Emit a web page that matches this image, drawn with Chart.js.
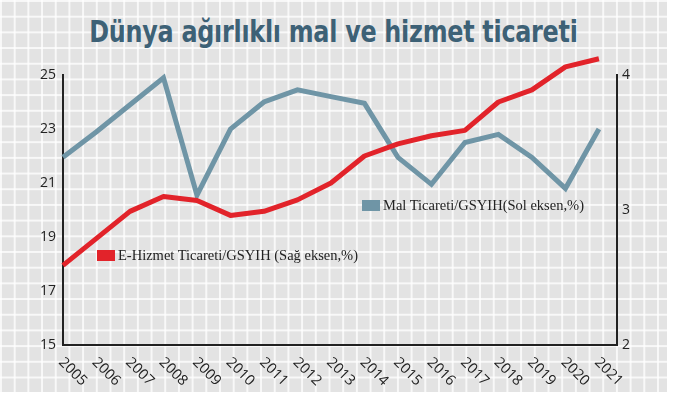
<!DOCTYPE html>
<html>
<head>
<meta charset="utf-8">
<script src="https://cdn.jsdelivr.net/npm/chart.js@4/dist/chart.umd.min.js"></script>
<style>
  html, body { margin: 0; padding: 0; background: #ffffff; }
  #wrap {
    position: relative; width: 673px; height: 399px; overflow: hidden;
  }
  #bg {
    position: absolute; left: 0; top: 0; width: 667px; height: 392px;
    background-color: #e3e3e3;
    background-image:
      linear-gradient(to right, rgba(255,255,255,0.75) 1.5px, transparent 1.5px),
      linear-gradient(to bottom, rgba(255,255,255,0.75) 1.5px, transparent 1.5px);
    background-size: 13.7px 15.7px;
  }
  #title {
    position: absolute; left: 0; width: 667px; top: 13px; text-align: center;
    font-family: "Liberation Sans Narrow", "DejaVu Sans Condensed", "Roboto", sans-serif;
    font-weight: bold; font-size: 31px; color: #3d6176; line-height: 36px;
    letter-spacing: -0.3px;
    transform: scaleX(0.855); transform-origin: 333px 0;
  }
  canvas { position: absolute; left: 0; top: 0; }
  .leg {
    position: absolute; display: flex; align-items: center; height: 16px;
    font-family: "Liberation Serif", "DejaVu Serif", serif; font-size: 14.5px; color: #222;
    white-space: nowrap;
  }
  .leg .box { width: 18px; height: 11px; margin-right: 3px; }
</style>
</head>
<body>
<div id="wrap">
  <div id="bg"></div>
  <div id="title">Dünya ağırlıklı mal ve hizmet ticareti</div>
  <canvas id="c" width="673" height="399"></canvas>
  <div class="leg" id="legBlue" style="left:362px; top:197px;"><span class="box"></span><span class="txt"></span></div>
  <div class="leg" id="legRed" style="left:97px; top:247px;"><span class="box"></span><span class="txt"></span></div>
</div>
<script>
// ---- data ----
const years = [2005, 2006, 2007, 2008, 2009, 2010, 2011, 2012, 2013, 2014, 2015, 2016, 2017, 2018, 2019, 2020, 2021];
// Mal Ticareti / GSYIH (left axis, %)
const goodsTrade = [21.95, 22.9, 23.9, 24.9, 20.55, 23.0, 24.0, 24.45, 24.2, 23.95, 21.95, 20.95, 22.5, 22.8, 21.95, 20.8, 23.0];
// E-Hizmet Ticareti / GSYIH (right axis, %)
const eServiceTrade = [2.59, 2.79, 2.99, 3.10, 3.07, 2.96, 2.99, 3.075, 3.20, 3.40, 3.49, 3.55, 3.59, 3.80, 3.89, 4.06, 4.12];
const leftTicks = [15, 17, 19, 21, 23, 25];
const rightTicks = [2, 3, 4];
const seriesLabels = ["Mal Ticareti/GSYIH(Sol eksen,%)", "E-Hizmet Ticareti/GSYIH (Sağ eksen,%)"];
const seriesColors = ["#6f95a6", "#e2232a"];

// legends (HTML)
document.querySelector('#legBlue .box').style.background = seriesColors[0];
document.querySelector('#legBlue .txt').textContent = seriesLabels[0];
document.querySelector('#legRed .box').style.background = seriesColors[1];
document.querySelector('#legRed .txt').textContent = seriesLabels[1];

const tickFont = { family: "'Open Sans', 'DejaVu Sans', sans-serif", size: 14 };

const rotatedYearLabels = {
  id: 'rotatedYearLabels',
  afterDraw(chart) {
    const xs = chart.scales.x;
    const ctx = chart.ctx;
    ctx.save();
    ctx.font = "14.5px 'Open Sans', 'DejaVu Sans', sans-serif";
    ctx.fillStyle = '#222';
    ctx.textAlign = 'left';
    ctx.textBaseline = 'middle';
    years.forEach(yr => {
      const px = xs.getPixelForValue(yr);
      ctx.save();
      ctx.translate(px - 2, xs.top + 15);
      ctx.rotate(Math.PI / 4);
      ctx.fillText(String(yr), 0, 0);
      ctx.restore();
    });
    ctx.restore();
  }
};

new Chart(document.getElementById('c'), {
  type: 'line',
  data: {
    datasets: [
      {
        label: seriesLabels[1],
        data: years.map((y, i) => ({ x: y, y: eServiceTrade[i] })),
        yAxisID: 'yR',
        borderColor: seriesColors[1],
        borderWidth: 5,
        pointRadius: 0,
        tension: 0,
        clip: false,
        order: 0,
        borderJoinStyle: 'round'
      },
      {
        label: seriesLabels[0],
        data: years.map((y, i) => ({ x: y, y: goodsTrade[i] })),
        yAxisID: 'yL',
        borderColor: seriesColors[0],
        borderWidth: 5,
        pointRadius: 0,
        tension: 0,
        clip: false,
        order: 1,
        borderJoinStyle: 'miter'
      }
    ]
  },
  options: {
    responsive: false,
    animation: false,
    events: [],
    layout: { padding: { left: 23, right: 16, top: 75, bottom: 14 } },
    plugins: { legend: { display: false }, tooltip: { enabled: false }, title: { display: false } },
    scales: {
      x: {
        type: 'linear', min: years[0], max: years[years.length - 1] + 0.54,
        grid: { display: false, drawTicks: false },
        ticks: { display: false },
        border: { color: '#222', width: 2 },
        afterFit: s => { s.height = 40; }
      },
      yL: {
        position: 'left', min: leftTicks[0], max: leftTicks[leftTicks.length - 1],
        afterBuildTicks: s => { s.ticks = leftTicks.map(v => ({ value: v })); },
        ticks: { color: '#222', font: tickFont, padding: 7 },
        grid: { display: false, drawTicks: false },
        border: { color: '#222', width: 2 },
        afterFit: s => { s.width = 40; }
      },
      yR: {
        position: 'right', min: rightTicks[0], max: rightTicks[rightTicks.length - 1],
        afterBuildTicks: s => { s.ticks = rightTicks.map(v => ({ value: v })); },
        ticks: { color: '#222', font: tickFont, padding: 5 },
        grid: { display: false, drawTicks: false },
        border: { color: '#222', width: 2 },
        afterFit: s => { s.width = 40; }
      }
    }
  },
  plugins: [rotatedYearLabels]
});
</script>
</body>
</html>
